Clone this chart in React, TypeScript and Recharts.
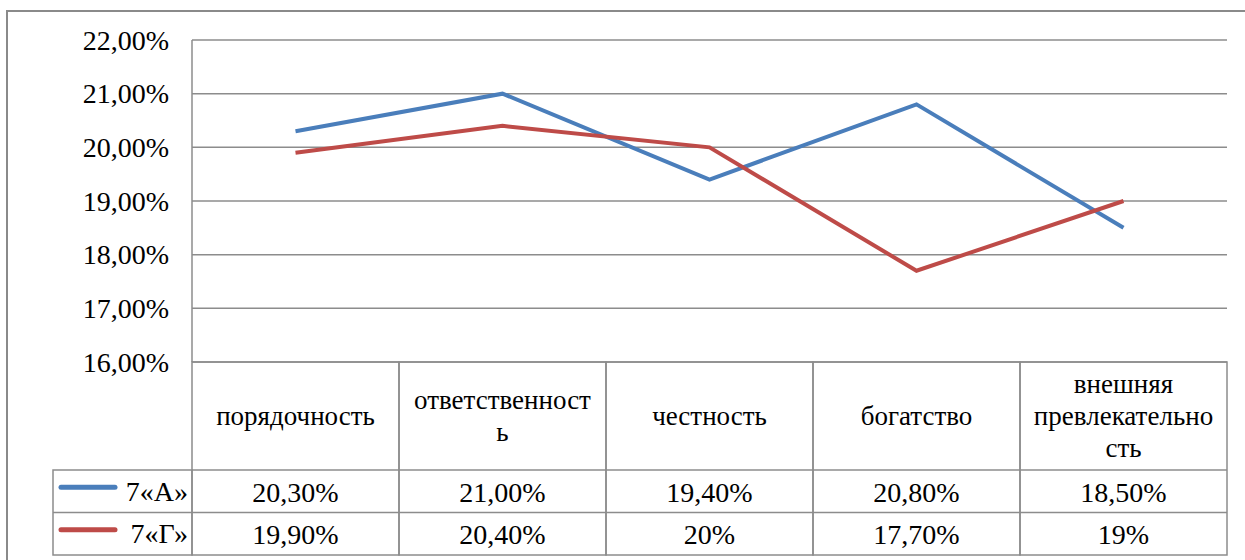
import React from 'react';
import { LineChart, Line, XAxis, YAxis, CartesianGrid } from 'recharts';

const categories = ['порядочность', 'ответственность', 'честность', 'богатство', 'внешняя превлекательность'];
const headerLines = [['порядочность'], ['ответственност', 'ь'], ['честность'], ['богатство'], ['внешняя', 'превлекательно', 'сть']];
const seriesNames = ['7«А»', '7«Г»'];
const valuesA = [20.3, 21.0, 19.4, 20.8, 18.5];
const valuesG = [19.9, 20.4, 20.0, 17.7, 19.0];
const labelsA = ['20,30%', '21,00%', '19,40%', '20,80%', '18,50%'];
const labelsG = ['19,90%', '20,40%', '20%', '17,70%', '19%'];
const yTicks = [16, 17, 18, 19, 20, 21, 22];
const colors = ['#4A7EBB', '#BE4B48'];

const data = categories.map((c, i) => ({ category: c, a: valuesA[i], g: valuesG[i] }));
const rowLabels = [labelsA, labelsG];

const W = 1245;
const H = 560;
const PLOT_LEFT = 192;
const PLOT_RIGHT = 1227;
const GRID = '#8c8c8c';
const FONT = "'Liberation Serif', 'Times New Roman', serif";
const FS = 28;
const HFS = 27;
const HEADER_H = 108;
const ROW_H = 42.5;
const LEGEND_W = 139;

const TableTick = (props: any) => {
  const { x, y, payload } = props;
  const index = payload?.index ?? props.index ?? 0;
  const cw = (PLOT_RIGHT - PLOT_LEFT) / categories.length;
  const left = x - cw / 2;
  const top = y;
  const lines = headerLines[index] || [payload.value];
  const lh = 32;
  const headerMid = top + HEADER_H / 2;
  const firstY = headerMid - ((lines.length - 1) * lh) / 2;
  return (
    <g>
      <rect x={left} y={top} width={cw} height={HEADER_H + ROW_H * 2} fill="none" stroke={GRID} strokeWidth={1.5} />
      <line x1={left} x2={left + cw} y1={top + HEADER_H} y2={top + HEADER_H} stroke={GRID} strokeWidth={1.5} />
      <line x1={left} x2={left + cw} y1={top + HEADER_H + ROW_H} y2={top + HEADER_H + ROW_H} stroke={GRID} strokeWidth={1.5} />
      {lines.map((t: string, k: number) => (
        <text key={k} x={x} y={firstY + k * lh} textAnchor="middle" dominantBaseline="central" fontFamily={FONT} fontSize={HFS} fill="#000">
          {t}
        </text>
      ))}
      {rowLabels.map((row, r) => (
        <text key={'v' + r} x={x} y={top + HEADER_H + ROW_H * r + ROW_H / 2 + 1} textAnchor="middle" dominantBaseline="central" fontFamily={FONT} fontSize={FS} fill="#000">
          {row[index]}
        </text>
      ))}
      {index === 0 && (
        <g>
          <rect x={left - LEGEND_W} y={top + HEADER_H} width={LEGEND_W} height={ROW_H * 2} fill="none" stroke={GRID} strokeWidth={1.5} />
          <line x1={left - LEGEND_W} x2={left} y1={top + HEADER_H + ROW_H} y2={top + HEADER_H + ROW_H} stroke={GRID} strokeWidth={1.5} />
          {seriesNames.map((s, r) => (
            <g key={'l' + r}>
              <line x1={left - LEGEND_W + 8} x2={left - LEGEND_W + 62} y1={top + HEADER_H + ROW_H * r + ROW_H / 2 - 4} y2={top + HEADER_H + ROW_H * r + ROW_H / 2 - 4} stroke={colors[r]} strokeWidth={5} strokeLinecap="round" />
              <text x={left - 4} y={top + HEADER_H + ROW_H * r + ROW_H / 2} textAnchor="end" dominantBaseline="central" fontFamily={FONT} fontSize={FS} fill="#000">
                {s}
              </text>
            </g>
          ))}
        </g>
      )}
    </g>
  );
};

const fmt = (v: number) => v.toFixed(2).replace('.', ',') + '%';

const YTick = (props: any) => {
  const { x, y, payload } = props;
  return (
    <text x={x} y={y} textAnchor="end" dominantBaseline="central" fontFamily={FONT} fontSize={FS} fill="#000">
      {fmt(payload.value)}
    </text>
  );
};

export default function App() {
  return (
    <div style={{ position: 'absolute', left: 0, top: 0, width: W, height: H, overflow: 'hidden', background: '#fff', fontFamily: FONT }}>
      <div style={{ position: 'absolute', left: 6, top: 10, width: W + 20, height: H + 20, border: `2px solid #8a8a8a`, boxSizing: 'border-box' }} />
      <div style={{ position: 'absolute', left: 0, top: 0 }}>
        <LineChart width={W} height={H} data={data} margin={{ top: 40, right: W - PLOT_RIGHT, left: 0, bottom: 0 }}>
          <CartesianGrid vertical={false} stroke={GRID} strokeWidth={1.5} />
          <XAxis
            dataKey="category"
            scale="band"
            axisLine={false}
            tickLine={false}
            tickSize={0}
            tickMargin={0}
            height={H - 362}
            interval={0}
            tick={(p: any) => <TableTick {...p} />}
          />
          <YAxis
            width={PLOT_LEFT}
            domain={[16, 22]}
            ticks={yTicks}
            axisLine={{ stroke: GRID, strokeWidth: 1.5 }}
            tickLine={false}
            tickMargin={17}
            tick={(p: any) => <YTick {...p} />}
          />
          <Line type="linear" dataKey="a" stroke={colors[0]} strokeWidth={4} dot={false} activeDot={false} isAnimationActive={false} />
          <Line type="linear" dataKey="g" stroke={colors[1]} strokeWidth={4} dot={false} activeDot={false} isAnimationActive={false} />
        </LineChart>
      </div>
    </div>
  );
}
